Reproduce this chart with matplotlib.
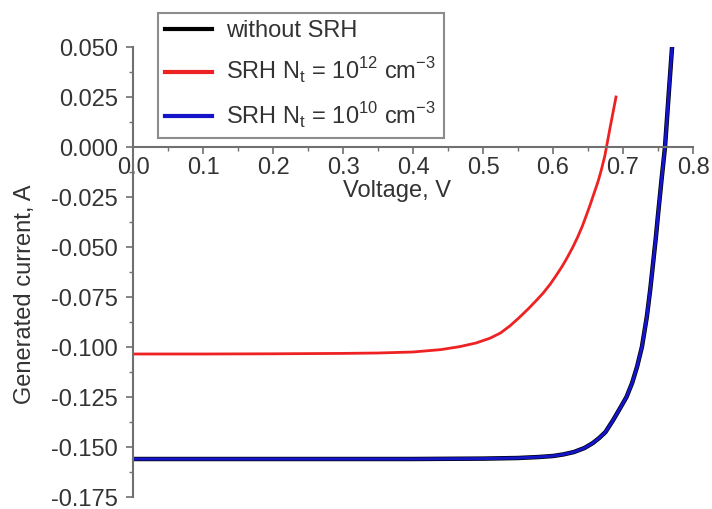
import matplotlib
matplotlib.use("Agg")
import matplotlib.pyplot as plt
from matplotlib.ticker import MultipleLocator, FormatStrFormatter

plt.rcParams['font.family'] = ['Liberation Sans', 'DejaVu Sans']

# Curves
v_nosrh = [0.0, 0.1, 0.2, 0.3, 0.4, 0.5, 0.55, 0.58, 0.6, 0.615, 0.63, 0.645, 0.657, 0.666, 0.675,
           0.686, 0.696, 0.705, 0.713, 0.72, 0.727, 0.734, 0.739, 0.743, 0.747, 0.75, 0.755,
           0.76, 0.765, 0.77]
i_nosrh = [-0.156, -0.156, -0.156, -0.156, -0.156, -0.1558, -0.1555, -0.155, -0.1545, -0.1537,
           -0.1525, -0.1505, -0.148, -0.1455, -0.1425, -0.1365, -0.1305, -0.125, -0.118, -0.110,
           -0.1, -0.085, -0.071, -0.058, -0.045, -0.034, -0.0165, 0.0, 0.025, 0.0495]

v_srh12 = [0.0, 0.1, 0.2, 0.3, 0.35, 0.4, 0.44, 0.467, 0.49, 0.51, 0.525, 0.539, 0.552, 0.565,
           0.576, 0.586, 0.596, 0.605, 0.613, 0.62, 0.628, 0.635, 0.642, 0.648, 0.653, 0.658,
           0.662, 0.665, 0.669, 0.674, 0.682, 0.69]
i_srh12 = [-0.1035, -0.1035, -0.1034, -0.1032, -0.103, -0.1025, -0.1013, -0.0998, -0.098,
           -0.0956, -0.093, -0.0893, -0.0852, -0.0808, -0.0768, -0.073, -0.0686, -0.064,
           -0.0597, -0.0555, -0.0503, -0.0452, -0.0395, -0.0338, -0.029, -0.0238, -0.0197,
           -0.0165, -0.0115, -0.0045, 0.0105, 0.025]

v_srh10 = v_nosrh
i_srh10 = i_nosrh

labels = ['without SRH',
          r'SRH N$_\mathregular{t}$ = 10$^\mathregular{12}$ cm$^\mathregular{-3}$',
          r'SRH N$_\mathregular{t}$ = 10$^\mathregular{10}$ cm$^\mathregular{-3}$']

FS = 17
fig = plt.figure(figsize=(7.12, 5.09), dpi=100)
ax = fig.add_axes([133/712, 1-497/509, (693-133)/712, (497-47)/509])

ax.plot(v_nosrh, i_nosrh, color='black', lw=3.2, label=labels[0])
ax.plot(v_srh12, i_srh12, color='#ee2222', lw=2.0, label=labels[1])
ax.plot(v_srh10, i_srh10, color='#1414c8', lw=2.2, label=labels[2])

ax.set_xlim(0, 0.8)
ax.set_ylim(-0.175, 0.05)

for s in ['top', 'right']:
    ax.spines[s].set_visible(False)
ax.spines['bottom'].set_position(('data', 0))
ax.spines['left'].set_position(('data', 0))
for s in ['left', 'bottom']:
    ax.spines[s].set_color('#707070')
    ax.spines[s].set_linewidth(1.5)

ax.xaxis.set_major_locator(MultipleLocator(0.1))
ax.xaxis.set_minor_locator(MultipleLocator(0.05))
ax.yaxis.set_major_locator(MultipleLocator(0.025))
ax.yaxis.set_minor_locator(MultipleLocator(0.0125))
ax.xaxis.set_major_formatter(FormatStrFormatter('%.1f'))
ax.yaxis.set_major_formatter(FormatStrFormatter('%.3f'))
ax.tick_params(which='major', length=5, width=1.2, color='#707070', labelsize=FS,
               labelcolor='#333333')
ax.tick_params(axis='y', which='major', pad=6)
ax.tick_params(axis='x', which='major', pad=2)
ax.tick_params(which='minor', length=3, width=1, color='#707070')

ax.set_xlabel('Voltage, V', fontsize=FS, color='#333333')
ax.xaxis.set_label_coords((397-133)/560, (497-180)/450)
ax.set_ylabel('Generated current, A', fontsize=FS, color='#333333')
ax.yaxis.set_label_coords(-(133-36)/560, 0.45)

leg = ax.legend(loc='upper left', bbox_to_anchor=((158-133)/560, 1+34/450), fontsize=FS,
                frameon=True, fancybox=False, edgecolor='#707070', handlelength=2.0,
                labelspacing=0.6, borderpad=0.3, handletextpad=0.6, borderaxespad=0)
leg.get_frame().set_linewidth(1.5)
for t in leg.get_texts():
    t.set_color('#333333')
for l in leg.get_lines():
    l.set_linewidth(3)

fig.savefig('out.png', dpi=100)
